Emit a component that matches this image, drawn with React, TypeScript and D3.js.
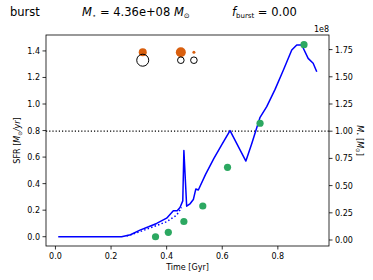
import * as d3 from "d3";

// blue SFR line (time in Gyr, SFR in Msun/yr)
const sfrTime = [0.01, 0.238, 0.27, 0.304, 0.335, 0.364, 0.40, 0.424, 0.438, 0.448, 0.458, 0.462, 0.472, 0.485, 0.496, 0.505, 0.514, 0.54, 0.57, 0.60, 0.628, 0.685, 0.706, 0.736, 0.76, 0.79, 0.82, 0.85, 0.868, 0.886, 0.909, 0.927, 0.94];
const sfrValue = [0, 0, 0.015, 0.05, 0.075, 0.10, 0.14, 0.196, 0.196, 0.22, 0.27, 0.65, 0.23, 0.25, 0.28, 0.36, 0.352, 0.47, 0.59, 0.70, 0.80, 0.57, 0.70, 0.90, 0.98, 1.11, 1.256, 1.407, 1.445, 1.445, 1.344, 1.307, 1.243];

// dotted companion line
const dotTime = [0.256, 0.304, 0.352, 0.40, 0.436, 0.454];
const dotValue = [0.005, 0.038, 0.075, 0.113, 0.163, 0.22];

// stellar mass points (1e8 Msun)
const massTime = [0.36, 0.406, 0.462, 0.53, 0.619, 0.736, 0.894];
const massValue = [0.03, 0.071, 0.17, 0.3125, 0.668, 1.073, 1.795];

// merger markers near top
const eventTime = [0.314, 0.451, 0.498];
const openRadius = [6, 3.3, 3.3];
const fillRadius = [4, 5, 1.5];
const openLevel = 1.33;
const fillLevel = 1.39;

const refMass = 1.0;

const xTicks = [0.0, 0.2, 0.4, 0.6, 0.8];
const leftTicks = [0.0, 0.2, 0.4, 0.6, 0.8, 1.0, 1.2, 1.4];
const rightTicks = [0.0, 0.25, 0.5, 0.75, 1.0, 1.25, 1.5, 1.75];

export default function App() {
	const W = 373;
	const H = 280;
	const L = 46, R = 329, T = 35, B = 246;
	const font = "DejaVu Sans, sans-serif";

	const x = d3.scaleLinear().domain([-0.034, 0.984]).range([L, R]);
	const yL = d3.scaleLinear().domain([-0.07, 1.52]).range([B, T]);
	const yR = d3.scaleLinear().domain([-0.055, 1.884]).range([B, T]);

	const line = d3
		.line<number>()
		.x((_, i) => x(sfrTime[i]))
		.y((d) => yL(d));
	const dotLine = d3
		.line<number>()
		.x((_, i) => x(dotTime[i]))
		.y((d) => yL(d));

	return (
		<svg width={W} height={H} style={{ position: "absolute", left: 0, top: 0, background: "#fff" }} fontFamily={font}>
			{/* title */}
			<text x={10} y={16} fontSize={11.5}>burst</text>
			<text x={82} y={16} fontSize={11.5}>
				<tspan fontStyle="italic">M</tspan>
				<tspan fontSize={7} dy={2}>⋆</tspan>
				<tspan dy={-2}> = 4.36e+08 </tspan>
				<tspan fontStyle="italic">M</tspan>
				<tspan fontSize={7} dy={2}>⊙</tspan>
			</text>
			<text x={232} y={16} fontSize={11.5}>
				<tspan fontStyle="italic">f</tspan>
				<tspan fontSize={7} dy={2}>burst</tspan>
				<tspan dy={-2}> = 0.00</tspan>
			</text>

			{/* reference mass line */}
			<line x1={L} x2={R} y1={yR(refMass)} y2={yR(refMass)} stroke="#000" strokeWidth={1.2} strokeDasharray="1.2,2" />

			{/* SFR */}
			<path d={line(sfrValue) ?? ""} fill="none" stroke="#0000ff" strokeWidth={1.5} strokeLinejoin="round" />
			<path d={dotLine(dotValue) ?? ""} fill="none" stroke="#0000ff" strokeWidth={1.5} strokeDasharray="1.5,2.2" />

			{/* mass points */}
			{massValue.map((m, i) => (
				<circle key={i} cx={x(massTime[i])} cy={yR(m)} r={3.6} fill="#2ca861" />
			))}

			{/* merger markers */}
			{eventTime.map((t, i) => (
				<g key={i}>
					<circle cx={x(t)} cy={yL(fillLevel)} r={fillRadius[i]} fill="#d95f0e" />
					<circle cx={x(t)} cy={yL(openLevel)} r={openRadius[i]} fill="none" stroke="#000" strokeWidth={1} />
				</g>
			))}

			{/* frame */}
			<rect x={L} y={T} width={R - L} height={B - T} fill="none" stroke="#000" strokeWidth={0.8} />

			{/* x axis */}
			{xTicks.map((t) => (
				<g key={t}>
					<line x1={x(t)} x2={x(t)} y1={B} y2={B + 3.5} stroke="#000" strokeWidth={0.8} />
					<text x={x(t)} y={B + 12.5} fontSize={8} textAnchor="middle">{t.toFixed(1)}</text>
				</g>
			))}
			<text x={(L + R) / 2} y={B + 23.5} fontSize={8} textAnchor="middle">Time [Gyr]</text>

			{/* left axis */}
			{leftTicks.map((t) => (
				<g key={t}>
					<line x1={L - 3.5} x2={L} y1={yL(t)} y2={yL(t)} stroke="#000" strokeWidth={0.8} />
					<text x={L - 6} y={yL(t) + 3} fontSize={8} textAnchor="end">{t.toFixed(1)}</text>
				</g>
			))}
			<text transform={`translate(20,${(T + B) / 2}) rotate(-90)`} fontSize={8} textAnchor="middle">
				SFR [<tspan fontStyle="italic">M</tspan><tspan fontSize={5.5} dy={1.5}>⊙</tspan><tspan dy={-1.5} fontStyle="italic">/yr</tspan>]
			</text>

			{/* right axis */}
			{rightTicks.map((t) => (
				<g key={t}>
					<line x1={R} x2={R + 3.5} y1={yR(t)} y2={yR(t)} stroke="#000" strokeWidth={0.8} />
					<text x={R + 6} y={yR(t) + 3} fontSize={8}>{t.toFixed(2)}</text>
				</g>
			))}
			<text x={R} y={T - 3} fontSize={8} textAnchor="end">1e8</text>
			<text transform={`translate(357,${(T + B) / 2}) rotate(90)`} fontSize={8} textAnchor="middle">
				<tspan fontStyle="italic">M</tspan><tspan fontSize={5.5} dy={1.5}>⋆</tspan><tspan dy={-1.5}> [</tspan><tspan fontStyle="italic">M</tspan><tspan fontSize={5.5} dy={1.5}>⊙</tspan><tspan dy={-1.5}>]</tspan>
			</text>
		</svg>
	);
}
